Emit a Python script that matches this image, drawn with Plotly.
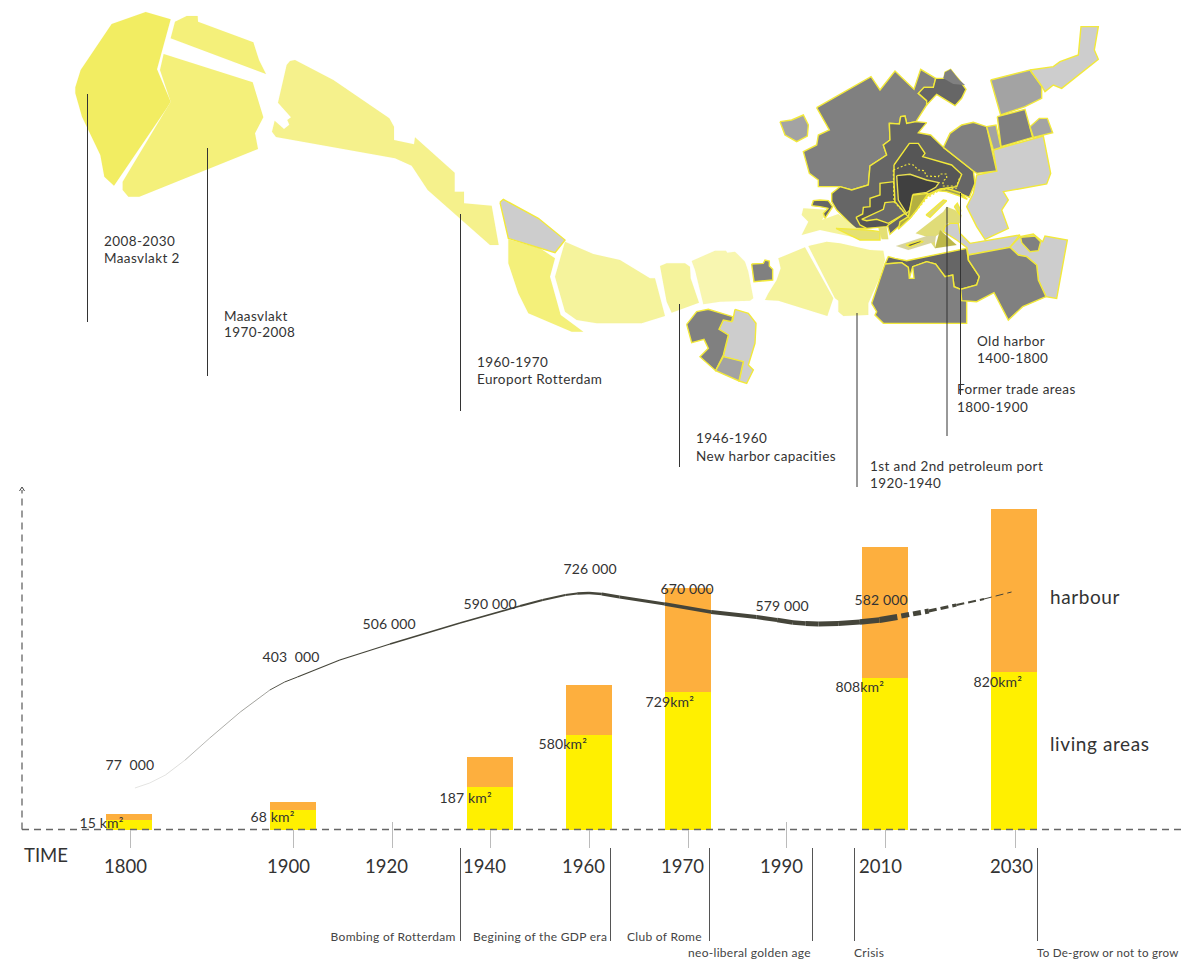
import plotly.graph_objects as go

# ---------- chart data ----------
years = ["1800", "1900", "1920", "1940", "1960", "1970", "1990", "2010", "2030"]
bar_slots = [0, 1.665, 3.665, 4.67, 5.675, 7.67, 8.985]
living_bar = [10, 20, 43, 95, 138, 152, 158]
harbour_bar = [6, 8, 30, 50, 104, 131, 163]
area_labels = ["15 km²", "68 km²", "187 km²", "580km²", "729km²", "808km²", "820km²"]
pop_labels = ["77  000", "403  000", "506 000", "590 000", "726 000", "670 000", "579 000", "582 000"]
curve_x = [0.06, 0.21, 0.37, 0.57, 0.82, 1.13, 1.43, 1.58, 1.71, 2.14, 2.65, 3.36, 3.97, 4.2, 4.43, 4.55, 4.67, 4.8, 4.98, 5.44, 5.91, 6.37, 6.58, 6.74, 6.87, 7.0, 7.2, 7.42, 7.62, 7.80]
curve_y = [42, 47, 55, 70, 92, 118, 140, 148, 153, 170, 186, 207, 224, 230, 235, 236.5, 237, 236, 233, 226, 218, 213, 210, 207.5, 206.5, 206, 206.5, 208, 210, 213]
curve_w = [.5, .5, .6, .6, .7, .8, .9, 1, 1.1, 1.3, 1.5, 1.7, 1.9, 2, 2.2, 2.4, 2.6, 2.8, 3.2, 3.6, 4, 4.2, 4.4, 4.6, 4.8, 5, 5.2, 5.6, 6.2]
tail_x = [7.84, 8.12, 8.4, 8.68, 8.96]
tail_y = [214, 219, 225, 231, 238]
tail_w = [5, 3.2, 2, 1]
events = ["Bombing of Rotterdam", "Begining of the GDP era", "Club of Rome", "neo-liberal golden age", "Crisis", "To De-grow or not to grow"]

# ---------- map data (outlines) ----------
GRAY_L, GRAY_M, GRAY, GRAY_D, GRAY_DD, GRAY_X = "#cdcdcd", "#a3a3a3", "#808080", "#666666", "#565656", "#404040"
Y1, Y2, Y3, Y4, Y5 = "#f2ed62", "#f4f07a", "#f5f18c", "#f5f39c", "#f8f6b0"
OUT = "#f2e93a"

west = [  # crop 60,0
    ([(257,36),(332,58),(291,208),(332,305),(320,325),(162,557),(133,530),(121,465),(66,350),(46,280),(46,262),(62,210),(155,72)], Y1, None),
    ([(345,65),(380,48),(413,48),(414,65),(580,127),(597,180),(618,222),(332,115)], Y2, None),
    ([(311,162),(578,247),(610,352),(585,400),(594,447),(238,590),(205,590),(188,570),(188,545),(332,305),(300,210)], Y2, None),
    ([(680,195),(690,183),(705,180),(820,240),(988,355),(1002,380),(1002,420),(1062,433),(1065,412),(1184,518),(1184,575),(1212,575),(1212,610),(1295,617),(1316,735),(1290,735),(1103,570),(1055,497),(1005,475),(648,411),(636,395),(644,362),(672,387),(688,374),(682,360),(693,352),(654,308)], Y3, None),
]
middle = [  # crop 440,180
    ([(205,178),(300,205),(345,235),(330,290),(362,405),(430,455),(395,455),(265,400),(235,340),(205,250)], Y2, None),
    ([(180,67),(190,58),(295,115),(375,180),(345,218),(205,175)], GRAY_L, OUT),
    ([(375,185),(460,222),(540,240),(630,295),(645,295),(675,408),(605,430),(470,430),(410,420),(375,395),(345,290)], Y4, None),
    ([(660,258),(680,250),(735,250),(750,260),(752,295),(777,368),(695,398),(680,365)], Y4, None),
    ([(755,243),(825,212),(858,212),(862,218),(885,215),(915,245),(925,275),(940,355),(930,362),(840,365),(790,373),(765,270)], Y5, None),
    ([(935,252),(970,250),(975,240),(988,243),(988,258),(998,268),(998,300),(942,305)], GRAY, OUT),
    ([(1015,235),(1095,202),(1180,355),(1162,408),(1015,362),(975,360),(985,340),(1010,300),(1022,265)], Y4, None),
    ([(1105,198),(1160,185),(1200,190),(1290,210),(1330,212),(1335,240),(1320,290),(1285,370),(1285,405),(1210,408),(1195,395),(1195,362),(1185,355)], Y4, None),
    ([(885,388),(925,400),(948,430),(945,490),(925,555),(940,570),(920,610),(897,603),(910,545),(850,530),(865,465),(837,448),(850,420),(878,422)], GRAY_L, OUT),
    ([(740,433),(770,395),(805,388),(878,410),(875,425),(850,420),(837,448),(865,465),(850,525),(827,572),(780,530),(805,505),(792,478),(755,488)], GRAY, OUT),
    ([(850,530),(910,545),(897,603),(827,572)], GRAY_M, OUT),
]
east = [  # crop 770,10
    ([(30,335),(65,330),(100,315),(115,345),(112,378),(80,395),(45,375)], GRAY_M, OUT),
    ([(140,293),(303,200),(330,240),(375,183),(432,238),(452,178),(497,205),(490,232),(462,232),(445,250),(470,272),(470,285),(438,335),(410,340),(405,318),(392,320),(388,342),(358,340),(360,390),(340,405),(350,435),(300,468),(295,525),(245,540),(210,530),(145,530),(145,510),(118,490),(100,425),(140,405),(145,375),(178,360)], GRAY, OUT),
    ([(497,205),(522,205),(525,187),(542,178),(555,195),(568,210),(588,238),(575,265),(555,287),(500,253),(470,285),(470,272),(445,250),(462,232),(490,232)], GRAY_D, OUT),
    ([(520,205),(525,187),(542,178),(555,195),(568,210),(585,225),(550,222)], GRAY, None),
    ([(358,340),(388,342),(392,320),(405,318),(410,340),(438,335),(470,338),(445,368),(482,375),(520,412),(610,483),(615,520),(598,562),(570,550),(510,537),(470,560),(420,625),(385,650),(360,673),(352,645),(290,655),(255,655),(200,600),(185,575),(185,550),(210,530),(245,540),(295,525),(300,468),(350,435),(340,405),(360,390)], GRAY_D, OUT),
    ([(258,622),(278,612),(280,592),(300,590),(300,565),(330,555),(330,520),(372,515),(375,575),(405,610),(355,645),(350,650),(290,655),(270,645)], GRAY_DD, OUT),
    ([(275,628),(340,598),(345,578),(375,575),(392,580),(405,610),(355,640),(320,628),(290,632)], "#6a6a6a", OUT),
    ([(372,465),(418,400),(445,400),(465,430),(458,440),(545,465),(575,493),(560,530),(510,537),(470,555),(430,555),(420,625),(405,610),(375,575),(372,515)], GRAY_DD, OUT),
    ([(380,497),(420,493),(470,510),(507,518),(497,532),(470,547),(430,553),(420,600),(410,610),(385,570)], GRAY_X, "#e8df50"),
    ([(428,555),(475,550),(440,600),(420,625),(385,658),(390,635),(415,620)], "#b4b040", OUT),
    ([(497,542),(530,535),(570,548),(592,568),(570,558),(530,545)], "#a6a450", OUT),
    ([(670,420),(820,378),(842,490),(830,522),(700,545),(715,570),(695,600),(715,655),(645,688),(620,650),(590,590),(610,550),(620,495),(680,483)], GRAY_L, OUT),
    ([(520,412),(540,370),(575,345),(610,337),(650,350),(680,483),(620,490),(610,483)], GRAY, OUT),
    ([(650,350),(678,345),(693,412),(670,420)], GRAY_M, OUT),
    ([(682,320),(765,298),(788,382),(693,410)], GRAY, OUT),
    ([(662,210),(780,180),(815,228),(815,265),(765,290),(692,315)], GRAY_M, OUT),
    ([(780,350),(808,325),(832,325),(848,368),(790,382)], GRAY_M, OUT),
    ([(780,180),(850,170),(870,155),(925,135),(933,50),(985,50),(973,120),(985,148),(875,235),(850,225),(825,245),(815,228)], GRAY_L, OUT),
    ([(100,595),(180,600),(155,630),(205,612),(260,655),(290,660),(330,690),(245,680),(150,660),(95,675),(115,635),(95,615)], Y4, None),
    ([(198,655),(290,660),(330,665),(330,690),(270,690)], "#e4e074", OUT),
    ([(325,655),(350,650),(355,688),(335,688)], "#e4e074", None),
    ([(125,587),(130,572),(150,570),(175,572),(188,590),(165,625),(160,610),(175,595),(150,590)], GRAY_D, OUT),
    ([(437,670),(520,605),(530,590),(555,600),(575,615),(570,640),(530,640),(525,660),(495,680),(495,715),(470,680)], "#e0dc78", None),
    ([(468,615),(520,570),(530,572),(480,622)], "#e0dc78", OUT),
    ([(553,590),(562,580),(572,600),(570,615)], "#e0dc78", OUT),
    ([(525,650),(540,640),(565,640),(570,670),(600,700),(750,675),(720,712),(595,735),(590,712),(560,690),(520,665)], GRAY_L, OUT),
    ([(510,660),(560,705),(495,715)], "#bdb84a", None),
    ([(378,708),(470,678),(498,678),(495,695),(415,720)], "#d8d49c", None),
    ([(408,705),(450,692),(460,695),(420,710)], "#555555", OUT),
    ([(345,762),(355,740),(375,745),(410,752),(590,715),(595,750),(628,800),(620,825),(572,838),(552,830),(548,795),(525,800),(497,762),(470,755),(428,770),(418,805),(415,772),(395,758)], GRAY_D, OUT),
    ([(305,880),(345,762),(395,758),(415,772),(418,805),(432,805),(428,770),(470,755),(497,762),(525,800),(548,795),(552,830),(572,838),(590,850),(590,940),(340,940),(315,915),(320,905)], GRAY, OUT),
    ([(720,712),(750,680),(790,672),(818,695),(825,678),(892,690),(860,865),(828,860),(805,810),(800,765),(770,740),(745,735)], GRAY_L, OUT),
    ([(595,735),(720,712),(745,735),(770,740),(800,765),(805,810),(828,860),(758,890),(715,930),(672,848),(620,875),(575,872),(572,838),(620,825),(628,800),(595,750)], GRAY, OUT),
    ([(752,682),(795,678),(812,695),(805,722),(780,725),(755,698)], GRAY, OUT),
]
dotted_a = [(370,480),(415,462),(430,465),(445,480),(463,482),(468,498),(505,500),(510,492),(530,492),(530,505),(520,512),(518,528),(560,528),(570,500)]
dotted_b = [(370,480),(372,575),(405,610),(420,625),(470,565),(510,540),(560,535)]

fig = go.Figure()

def place(points, ox, oy):
    return [ox + p[0] / 3 for p in points], [oy + p[1] / 3 for p in points]

for group, ox, oy in ((west, 60, 0), (middle, 440, 180), (east, 770, 10)):
    for pts, colour, outline in group:
        xs, ys = place(pts + pts[:1], ox, oy)
        fig.add_trace(go.Scatter(x=xs, y=ys, xaxis="x2", yaxis="y2", mode="lines", fill="toself", fillcolor=colour,
                                 line=dict(color=outline or colour, width=1.4 if outline else 0.1), hoverinfo="skip"))
for pts in (dotted_a, dotted_b):
    xs, ys = place(pts, 770, 10)
    fig.add_trace(go.Scatter(x=xs, y=ys, xaxis="x2", yaxis="y2", mode="lines",
                             line=dict(color="#f2e93a", width=1.2, dash="2px,2px"), hoverinfo="skip"))

# leader lines
leader_x = [87.5, 207.5, 460.5, 679.5, 857, 947, 960.5]
leader_top = [94, 148, 214, 304, 313, 207, 193]
leader_end = [322, 376, 411, 467, 487, 436, 395]
for lx, a, b in zip(leader_x, leader_top, leader_end):
    fig.add_trace(go.Scatter(x=[lx, lx], y=[a, b], xaxis="x2", yaxis="y2", mode="lines",
                             line=dict(color="#333333", width=1), hoverinfo="skip"))

# bars
fig.add_trace(go.Bar(x=bar_slots, y=living_bar, width=46 / 98.5, marker=dict(color="#fff000", line=dict(width=0)), name="living areas"))
fig.add_trace(go.Bar(x=bar_slots, y=harbour_bar, width=46 / 98.5, marker=dict(color="#fdaf3e", line=dict(width=0)), name="harbour"))

# population curve, thin to thick
for i, w in enumerate(curve_w):
    colour = "#c8c8c4" if i < 3 else ("#8a8a84" if i < 6 else "#45453a")
    fig.add_trace(go.Scatter(x=curve_x[i:i + 2], y=curve_y[i:i + 2], mode="lines",
                             line=dict(color=colour, width=w), hoverinfo="skip"))
for i, w in enumerate(tail_w):
    fig.add_trace(go.Scatter(x=tail_x[i:i + 2], y=tail_y[i:i + 2], mode="lines",
                             line=dict(color="#45453a", width=w, dash="8px,4px"), hoverinfo="skip"))

# axes drawn by hand as dashed rules and ticks
rules_x = [[22, 1182], [22, 22]]
rules_y = [[829.5, 829.5], [829.5, 490]]
for rx, ry in zip(rules_x, rules_y):
    fig.add_trace(go.Scatter(x=rx, y=ry, xaxis="x2", yaxis="y2", mode="lines",
                             line=dict(color="#666666", width=1.3, dash="7px,5px"), hoverinfo="skip"))
fig.add_trace(go.Scatter(x=[19.5, 22, 24.5], y=[491, 487, 491], xaxis="x2", yaxis="y2", mode="lines",
                         line=dict(color="#444444", width=1), hoverinfo="skip"))
tick_px = [130.5, 293.5, 392.5, 490.5, 589.5, 688.5, 786.5, 885.5, 1015.5]
tick_top = [830, 830, 822, 830, 830, 830, 822, 830, 830]
for tx, top in zip(tick_px, tick_top):
    fig.add_trace(go.Scatter(x=[tx, tx], y=[top, 848], xaxis="x2", yaxis="y2", mode="lines",
                             line=dict(color="#bbbbbb", width=1), hoverinfo="skip"))
event_x = [460.5, 610.5, 709.5, 812.5, 854.5, 1037.5]
for ex in event_x:
    fig.add_trace(go.Scatter(x=[ex, ex], y=[848, 941], xaxis="x2", yaxis="y2", mode="lines",
                             line=dict(color="#555555", width=1), hoverinfo="skip"))

FONT = "Lato"
INK = "#333333"
def label(text, x, y, size, anchor="left", colour=INK):
    fig.add_annotation(text=text, x=x, y=y, xref="x2", yref="y2", showarrow=False, xanchor=anchor, yanchor="middle",
                       align=anchor, font=dict(family=FONT, size=size, color=colour))

map_lines = [("2008-2030", "Maasvlakt 2"), ("Maasvlakt", "1970-2008"), ("1960-1970", "Europort Rotterdam"),
             ("1946-1960", "New harbor capacities"), ("1st and 2nd petroleum port", "1920-1940"),
             ("Former trade areas", "1800-1900"), ("Old harbor", "1400-1800")]
map_lx = [102, 222, 475, 694, 868, 955, 975]
map_ly = [(241, 258), (316, 332), (362, 379), (438, 456), (466, 483), (389, 407), (341, 358)]
for lines, x, ys in zip(map_lines, map_lx, map_ly):
    for t, y in zip(lines, ys):
        label(t, x, y, 13.5)

pop_x = [130, 291, 389, 490, 590, 687, 782, 881]
pop_y = [764, 656, 623, 603, 568, 588, 605, 599]
for t, x, y in zip(pop_labels, pop_x, pop_y):
    label(t, x, y, 14, "center")

area_x = [101, 272, 466, 563, 670, 860, 998]
area_y = [822, 816, 797, 743, 701, 686, 681]
for t, x, y in zip(area_labels, area_x, area_y):
    label(t, x, y, 14, "center")

year_x = [125, 288, 386, 484, 583, 682, 781, 880, 1011]
for t, x in zip(years, year_x):
    label(t, x, 866, 18.5, "center")
label("TIME", 22, 855, 18.5)
label("harbour", 1048, 596, 19)
label("living areas", 1048, 743, 19)

event_lx = [458, 471, 625, 686, 852, 1035]
event_ly = [936, 936, 936, 952, 952, 952]
event_anchor = ["right", "left", "left", "left", "left", "left"]
event_size = [12, 12, 12, 12, 12, 11.6]
for t, x, y, a, s in zip(events, event_lx, event_ly, event_anchor, event_size):
    label(t, x, y, s, a, "#444444")

fig.update_layout(
    width=1182, height=960, margin=dict(l=0, r=0, t=0, b=0), showlegend=False, barmode="stack",
    paper_bgcolor="white", plot_bgcolor="rgba(0,0,0,0)",
    xaxis=dict(domain=[0, 1], range=[-129 / 98.5, (1182 - 129) / 98.5], visible=False, anchor="y"),
    yaxis=dict(domain=[130 / 960, 1], range=[0, 830], visible=False, anchor="x"),
    xaxis2=dict(domain=[0, 1], range=[0, 1182], visible=False, anchor="y2"),
    yaxis2=dict(domain=[0, 1], range=[960, 0], visible=False, anchor="x2"),
)
# the reference's typeface sets wider than Lato: open up the tracking by size
spacing = """
document.body.style.margin='0';document.body.style.overflow='hidden';
document.querySelectorAll('.annotation-text').forEach(function(t){
  var s=parseFloat(t.style.fontSize);
  var ls = s===13.5 ? 0.4 : s===12 ? 0.3 : s===19 ? 0.6 : s===14 ? 0.15 : s===11.6 ? 0.25 : 0;
  t.style.letterSpacing = ls+'px';
});
"""
fig.write_html("out.html", post_script=spacing, config={"displayModeBar": False})
